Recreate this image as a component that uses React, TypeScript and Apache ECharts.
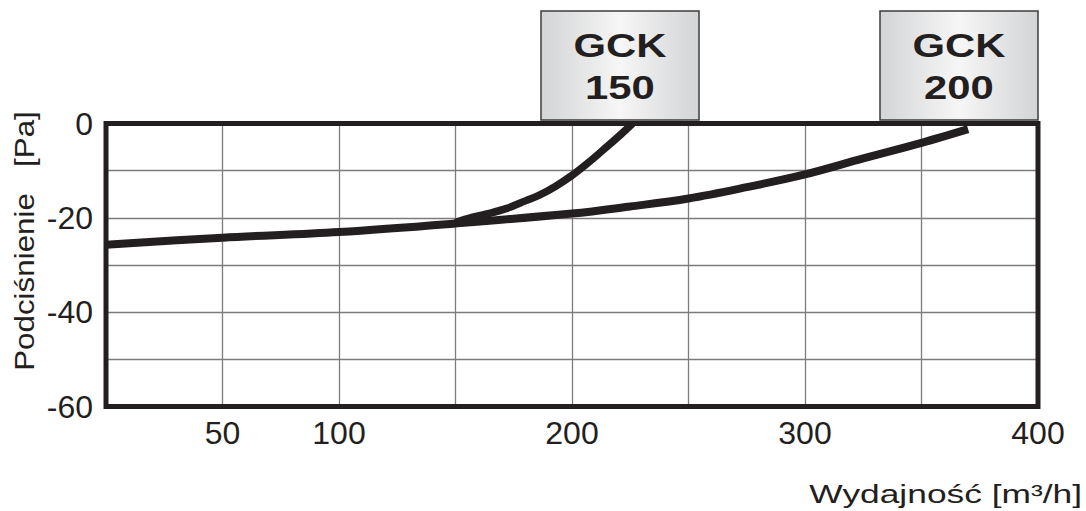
import React, { useEffect, useRef } from "react";
import * as echarts from "echarts";

// Flow rate axis (m³/h)
const xMin = 0;
const xMax = 400;
const xStep = 50;
const xTickLabels = [50, 100, 200, 300, 400];

// Pressure axis (Pa)
const yMin = -60;
const yMax = 0;
const yStep = 10;
const yTickLabels = [0, -20, -40, -60];

// Curves [flow, pressure]
const gck150: [number, number][] = [
  [150, -21.0], [157, -19.9], [165, -19.0], [172, -18.0], [180, -16.4],
  [186, -15.2], [193, -13.3], [200, -11.0], [207, -8.3], [215, -4.9],
  [221, -2.3], [226, 0],
];
const gck200: [number, number][] = [
  [0, -25.7], [50, -24.2], [100, -23.0], [150, -21.2], [200, -19.1],
  [225, -17.6], [250, -15.9], [275, -13.5], [300, -10.8], [325, -7.4],
  [350, -4.1], [370, -1.2],
];

const seriesNames = ["GCK\n150", "GCK\n200"];
const yTitle = "Podciśnienie   [Pa]";
const xTitle = "Wydajność [m³/h]";

const INK = "#231f20";
const SANS = "'Liberation Sans', Arial, Helvetica, sans-serif";

function labelBox(x: number, text: string) {
  return {
    type: "group",
    children: [
      {
        type: "rect",
        shape: { x, y: 11, width: 158, height: 109 },
        style: {
          fill: new echarts.graphic.LinearGradient(0, 0, 1, 0, [
            { offset: 0, color: "#d3d4d6" },
            { offset: 0.5, color: "#f6f6f6" },
            { offset: 1, color: "#d3d4d6" },
          ]),
          stroke: "#3c3c3c",
          lineWidth: 1.5,
        },
        z: 10,
      },
      {
        type: "text",
        x: x + 79,
        y: 66,
        scaleX: 1.23,
        style: {
          text,
          x: 0,
          y: 0,
          align: "center",
          verticalAlign: "middle",
          fontFamily: SANS,
          fontWeight: "bold",
          fontSize: 34,
          lineHeight: 42,
          fill: INK,
        },
        z: 11,
      },
    ],
  };
}

export default function App() {
  const ref = useRef<HTMLDivElement>(null);

  useEffect(() => {
    if (!ref.current) return;
    const chart = echarts.init(ref.current, null, { renderer: "svg" });
    chart.setOption({
      animation: false,
      backgroundColor: "#ffffff",
      grid: {
        left: 106,
        top: 123.5,
        right: 48,
        bottom: 104.5,
        show: true,
        borderColor: INK,
        borderWidth: 5,
        z: 5,
      },
      xAxis: {
        type: "value",
        min: xMin,
        max: xMax,
        interval: xStep,
        axisLine: { show: false },
        axisTick: { show: false },
        splitLine: { show: true, lineStyle: { color: "#7c7c7c", width: 1.3 } },
        axisLabel: {
          margin: 10,
          fontFamily: SANS,
          fontSize: 32,
          color: INK,
          formatter: (v: number) => (xTickLabels.includes(v) ? String(v) : ""),
        },
      },
      yAxis: {
        type: "value",
        min: yMin,
        max: yMax,
        interval: yStep,
        axisLine: { show: false },
        axisTick: { show: false },
        splitLine: { show: true, lineStyle: { color: "#7c7c7c", width: 1.3 } },
        axisLabel: {
          margin: 13,
          fontFamily: SANS,
          fontSize: 32,
          color: INK,
          formatter: (v: number) => (yTickLabels.includes(v) ? String(v) : ""),
        },
      },
      series: [
        {
          name: seriesNames[0],
          type: "line",
          data: gck150,
          smooth: 0.35,
          symbol: "none",
          lineStyle: { color: INK, width: 7.5, cap: "butt" },
          z: 3,
        },
        {
          name: seriesNames[1],
          type: "line",
          data: gck200,
          smooth: 0.35,
          symbol: "none",
          lineStyle: { color: INK, width: 8, cap: "butt" },
          z: 3,
        },
      ],
      graphic: [
        labelBox(541, seriesNames[0]),
        labelBox(880, seriesNames[1]),
        {
          type: "text",
          x: 24,
          y: 241,
          rotation: Math.PI / 2,
          scaleX: 1.12,
          style: {
            text: yTitle,
            x: 0,
            y: 0,
            align: "center",
            verticalAlign: "middle",
            fontFamily: SANS,
            fontSize: 28,
            fill: INK,
          },
        },
        {
          type: "text",
          x: 1082,
          y: 494,
          scaleX: 1.36,
          style: {
            text: xTitle,
            x: 0,
            y: 0,
            align: "right",
            verticalAlign: "middle",
            fontFamily: SANS,
            fontSize: 26,
            fill: INK,
          },
        },
      ],
    });
    return () => chart.dispose();
  }, []);

  return (
    <div
      ref={ref}
      style={{ position: "fixed", left: 0, top: 0, width: 1086, height: 511 }}
    />
  );
}
